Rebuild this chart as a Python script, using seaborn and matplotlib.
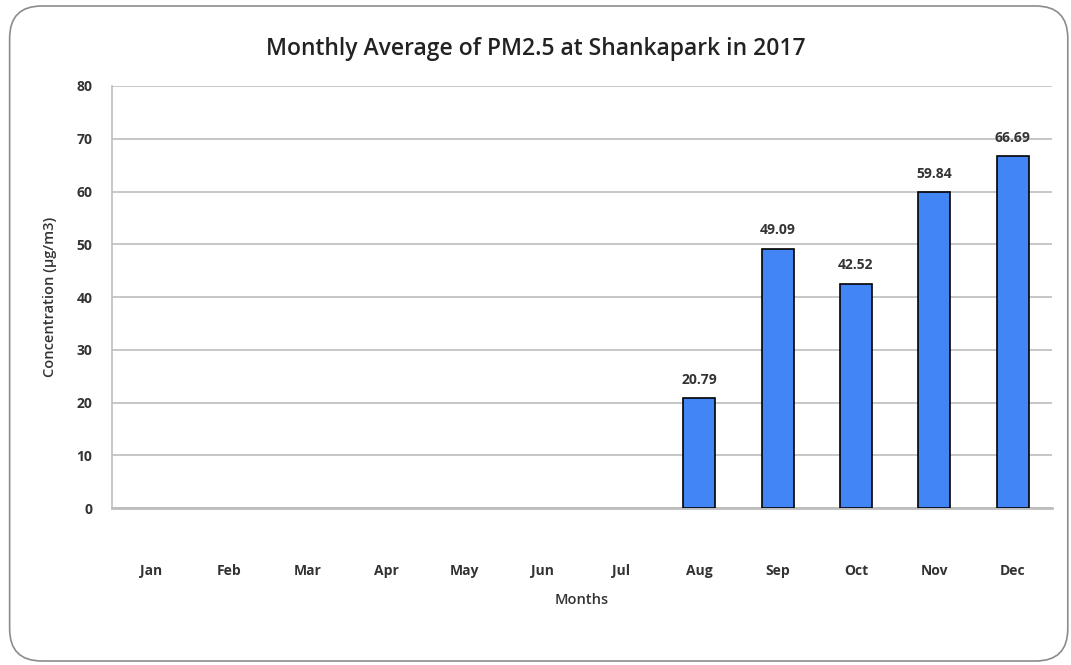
import numpy as np
import pandas as pd
import matplotlib.pyplot as plt
import seaborn as sns
from matplotlib.patches import FancyBboxPatch

# data
months = ["Jan", "Feb", "Mar", "Apr", "May", "Jun", "Jul", "Aug", "Sep", "Oct", "Nov", "Dec"]
pm25 = [np.nan, np.nan, np.nan, np.nan, np.nan, np.nan, np.nan, 20.79, 49.09, 42.52, 59.84, 66.69]
y_ticks = [0, 10, 20, 30, 40, 50, 60, 70, 80]

df = pd.DataFrame({"Month": months, "PM25": pm25})

sns.set_style("white")
plt.rcParams["font.family"] = ["Open Sans", "DejaVu Sans"]

fig = plt.figure(figsize=(10.71, 6.65), dpi=100)
ax = fig.add_axes([0.1046, 0.236, 0.8774, 0.6347])

# rounded outer frame
frame = FancyBboxPatch((0.009, 0.006), 0.988, 0.985, boxstyle="round,pad=0,rounding_size=0.03",
                       transform=fig.transFigure, facecolor="none", edgecolor="#8c8c8c", linewidth=1.2,
                       mutation_aspect=1071 / 665)
fig.patches.append(frame)

sns.barplot(data=df, x="Month", y="PM25", order=months, color="#4285F4", edgecolor="black",
            linewidth=1.2, width=0.41, saturation=1, ax=ax, zorder=3)

for i, v in enumerate(pm25):
    if not np.isnan(v):
        ax.text(i, v + 2.2, f"{v:.2f}", ha="center", va="bottom", fontsize=10,
                fontweight="bold", color="#333333", zorder=4)

ax.set_ylim(0, 80)
ax.set_yticks(y_ticks)
ax.set_xlim(-0.5, 11.5)
ax.yaxis.grid(True, color="#bdbdbd", linewidth=1.2, zorder=0)
ax.set_axisbelow(True)
for s in ["top", "right"]:
    ax.spines[s].set_visible(False)
ax.spines["left"].set_color("#bdbdbd")
ax.spines["left"].set_linewidth(1.2)
ax.spines["bottom"].set_color("#bdbdbd")
ax.spines["bottom"].set_linewidth(2)
ax.tick_params(length=0, pad=14, labelsize=10, colors="#333333")
ax.tick_params(axis="x", pad=40)
for lbl in ax.get_xticklabels() + ax.get_yticklabels():
    lbl.set_fontweight("bold")

ax.set_xlabel("Months", fontsize=10.5, fontweight="semibold", color="#333333", labelpad=11)
ax.set_ylabel("Concentration (\u00b5g/m3)", fontsize=10.5, fontweight="semibold", color="#333333", labelpad=14)
fig.suptitle("Monthly Average of PM2.5 at Shankapark in 2017", x=0.5, y=0.945, fontsize=16.5,
             fontweight="semibold", color="#222222")

fig.savefig("out.png", dpi=100)
